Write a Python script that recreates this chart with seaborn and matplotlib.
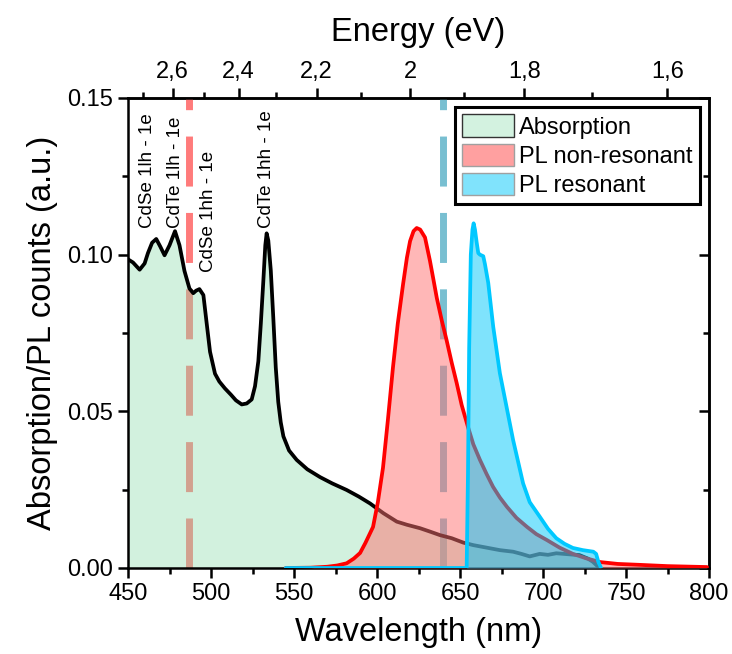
import numpy as np
import matplotlib
matplotlib.use("Agg")
import matplotlib.pyplot as plt
from matplotlib.patches import Patch
from matplotlib.ticker import MultipleLocator, FixedLocator
import seaborn as sns

# Absorption spectrum (black line, green fill)
abs_wl = [450, 453, 457, 460, 462, 464.5, 467, 469.5, 472, 475, 478.3, 481, 484, 487,
          489.3, 491, 493, 495.4, 497.4, 499.4, 502.4, 505, 508.4, 512, 515, 518.5,
          521.5, 524.5, 526.5, 528.5, 530, 531.5, 532.7, 533.5, 534.5, 536, 537.5, 539,
          540.5, 542, 543.6, 547, 551.6, 558, 565.7, 573, 581.7, 589, 595.8, 603.8,
          611.9, 618, 625.9, 632, 637.9, 645, 652, 658, 666, 674, 682, 687, 692, 698,
          703, 708, 715, 722, 727, 730, 732, 734]
abs_val = [0.0985, 0.0975, 0.0952, 0.0972, 0.1005, 0.1038, 0.105, 0.1025, 0.0998, 0.103,
           0.1075, 0.103, 0.0948, 0.0892, 0.0877, 0.0885, 0.089, 0.0871, 0.078, 0.069,
           0.062, 0.0595, 0.0573, 0.0553, 0.0535, 0.0522, 0.0525, 0.0538, 0.058, 0.066,
           0.078, 0.0915, 0.103, 0.1068, 0.1045, 0.095, 0.08, 0.064, 0.053, 0.0465,
           0.042, 0.0375, 0.0345, 0.0315, 0.029, 0.027, 0.0249, 0.0228, 0.0206, 0.0175,
           0.0148, 0.0138, 0.0127, 0.0116, 0.0105, 0.0095, 0.0081, 0.0073, 0.0065,
           0.0057, 0.0052, 0.0045, 0.0037, 0.0045, 0.0042, 0.0047, 0.0044, 0.0041,
           0.003, 0.002, 0.001, 0.0]

# PL non-resonant (red)
plnr_wl = [545, 560, 570, 576, 581.7, 586, 589.8, 593, 597.6, 600.5, 603.6, 606.5, 609.6,
           612.5, 615.7, 618, 619.9, 622, 623.9, 626, 628.9, 631.9, 634, 636, 639, 642,
           645, 648, 651, 654.8, 658, 662, 666, 669.9, 674, 678.3, 684, 690.4, 696,
           702.4, 710, 718, 726, 734.3, 745, 758.4, 775, 798.8]
plnr_val = [0.0, 0.0001, 0.0004, 0.0008, 0.0015, 0.003, 0.0048, 0.008, 0.0131, 0.021,
            0.032, 0.047, 0.064, 0.078, 0.0906, 0.099, 0.1043, 0.1075, 0.1085, 0.108,
            0.1055, 0.098, 0.092, 0.0862, 0.079, 0.0725, 0.0655, 0.059, 0.052, 0.045,
            0.0395, 0.0345, 0.030, 0.0259, 0.0225, 0.0195, 0.016, 0.0131, 0.0108,
            0.0089, 0.0065, 0.0045, 0.0031, 0.0019, 0.0013, 0.001, 0.0006, 0.0003]

# PL resonant (cyan)
plr_wl = [545, 600, 650, 654, 654.8, 655.5, 656.5, 657.5, 658.2, 659, 660, 661, 662, 664,
          665, 667, 670, 674, 678, 682, 688, 692, 698, 703, 708, 713, 718, 724, 730.3,
          732, 733.3, 735]
plr_val = [0.0, 0.0, 0.0, 0.0, 0.03, 0.07, 0.1, 0.108, 0.110, 0.108, 0.104, 0.1005, 0.1,
           0.0995, 0.097, 0.091, 0.077, 0.0622, 0.0515, 0.0408, 0.027, 0.021, 0.0164,
           0.0125, 0.0095, 0.0077, 0.0064, 0.0057, 0.0052, 0.0045, 0.002, 0.0]

# excitation lines and transition labels
exc_nonres = 487
exc_res = 639.5
trans_labels = ["CdSe 1lh - 1e", "CdTe 1lh - 1e", "CdSe 1hh - 1e", "CdTe 1hh - 1e"]
trans_x = [462, 478.3, 498.2, 533.7]
trans_y = [0.1085, 0.1085, 0.0945, 0.1085]

energy_ticks = [2.6, 2.4, 2.2, 2.0, 1.8, 1.6]
energy_labels = ["2,6", "2,4", "2,2", "2", "1,8", "1,6"]
energy_minor = [2.7, 2.5, 2.3, 2.1, 1.9, 1.7]

sns.set_theme(style="ticks")
plt.rcParams['font.family'] = ['Liberation Sans', 'DejaVu Sans']
plt.rcParams['axes.linewidth'] = 1.8
plt.rcParams['text.color'] = 'black'
plt.rcParams['axes.labelcolor'] = 'black'
plt.rcParams['xtick.color'] = 'black'
plt.rcParams['ytick.color'] = 'black'
plt.rcParams['axes.edgecolor'] = 'black'

fig = plt.figure(figsize=(7.32, 6.54), dpi=100)
ax = fig.add_axes([0.1749, 0.1315, 0.7937, 0.7187])

# dashed excitation lines sit behind the fills
ax.axvline(exc_nonres, color='#ff7b7b', lw=5.0, dashes=(7.2, 3.8), zorder=1)
ax.axvline(exc_res, color='#78bfd1', lw=5.0, dashes=(7.2, 3.8), zorder=1)

ax.fill_between(abs_wl, abs_val, color='#8fdcae', alpha=0.4, lw=0, zorder=2)
sns.lineplot(x=abs_wl, y=abs_val, ax=ax, color='black', lw=2.7, zorder=3,
             solid_joinstyle='round')
ax.fill_between(plnr_wl, plnr_val, color='#ff7070', alpha=0.5, lw=0, zorder=4)
sns.lineplot(x=plnr_wl, y=plnr_val, ax=ax, color='#ff0000', lw=2.7, zorder=5,
             solid_joinstyle='round')
ax.fill_between(plr_wl, plr_val, color='#00c8fa', alpha=0.5, lw=0, zorder=6)
sns.lineplot(x=plr_wl, y=plr_val, ax=ax, color='#00c8ff', lw=2.7, zorder=7,
             solid_joinstyle='round')

for lab, tx, ty in zip(trans_labels, trans_x, trans_y):
    ax.text(tx, ty, lab, rotation=90, ha='center', va='bottom', fontsize=13.5, zorder=8)

ax.set_xlim(450, 800)
ax.set_ylim(0, 0.15)
ax.set_xticks(np.arange(450, 801, 50))
ax.set_yticks([0, 0.05, 0.10, 0.15])
ax.set_yticklabels(["0.00", "0.05", "0.10", "0.15"])
ax.xaxis.set_minor_locator(MultipleLocator(25))
ax.yaxis.set_minor_locator(MultipleLocator(0.025))
ax.tick_params(which='both', direction='out', width=1.8, labelsize=17,
               top=False, right=False, bottom=True, left=True)
ax.tick_params(which='major', length=7)
ax.tick_params(which='minor', length=4.5)
ax.set_xlabel("Wavelength (nm)", fontsize=23.5, labelpad=9)
ax.set_ylabel("Absorption/PL counts (a.u.)", fontsize=23.5, labelpad=7)


def nm_ev(x):
    x = np.asarray(x, dtype=float)
    out = np.full_like(x, np.inf)
    ok = ~np.isclose(x, 0)
    out[ok] = 1239.84 / x[ok]
    return out


top = ax.secondary_xaxis('top', functions=(nm_ev, nm_ev))
top.set_xticks(energy_ticks, energy_labels)
top.xaxis.set_minor_locator(FixedLocator(energy_minor))
top.tick_params(which='both', direction='out', width=1.8, labelsize=17)
top.tick_params(which='major', length=7)
top.tick_params(which='minor', length=4.5)
top.set_xlabel("Energy (eV)", fontsize=23.5, labelpad=15)

right = ax.secondary_yaxis('right')
right.set_yticks([0, 0.05, 0.10, 0.15])
right.yaxis.set_minor_locator(MultipleLocator(0.025))
right.tick_params(which='both', direction='in', width=1.8, labelright=False)
right.tick_params(which='major', length=7)
right.tick_params(which='minor', length=4.5)

handles = [Patch(facecolor='#d3f2e0', edgecolor='#333333', lw=1.0, label='Absorption'),
           Patch(facecolor='#ffa0a0', edgecolor='#a0a0a0', lw=1.0, label='PL non-resonant'),
           Patch(facecolor='#80e3fc', edgecolor='#a0a0a0', lw=1.0, label='PL resonant')]
leg = ax.legend(handles=handles, loc='upper right', fontsize=17, frameon=True,
                fancybox=False, edgecolor='black', framealpha=1,
                handlelength=2.2, handleheight=1.1, handletextpad=0.2,
                labelspacing=0.2, borderpad=0.3, borderaxespad=0.4)
leg.get_frame().set_linewidth(2.2)
leg.set_zorder(10)

fig.savefig("out.png", dpi=100)
